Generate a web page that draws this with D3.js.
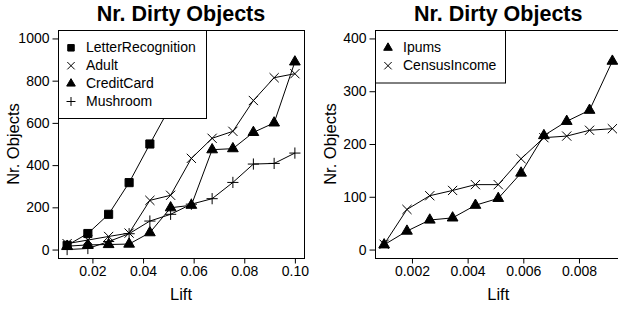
<!DOCTYPE html>
<html>
<head>
<meta charset="utf-8">
<script src="https://cdn.jsdelivr.net/npm/d3@7"></script>
<style>
  body { margin: 0; background: #fff; }
  svg { display: block; font-family: "Liberation Sans", Arial, sans-serif; }
</style>
</head>
<body>
<svg id="chart" width="618" height="310"></svg>
<script>
// left panel data
var liftA = [0.0100, 0.0182, 0.0264, 0.0345, 0.0427, 0.0509, 0.0591, 0.0673, 0.0755, 0.0836, 0.0918, 0.1000];
var letterRecognition = [20, 76, 167, 317, 500, 680];
var adult = [28, 45, 62, 78, 233, 257, 432, 527, 560, 706, 814, 833];
var creditCard = [16, 22, 24, 26, 80, 198, 210, 473, 478, 555, 600, 889];
var mushroom = [0, 5, 38, 75, 135, 167, 215, 241, 318, 405, 408, 457];
var ticksXA = [0.02, 0.04, 0.06, 0.08, 0.10];
var ticksYA = [0, 200, 400, 600, 800, 1000];

// right panel data
var liftB = [0.00100, 0.00182, 0.00264, 0.00346, 0.00428, 0.00510, 0.00592, 0.00674, 0.00756, 0.00838, 0.00920];
var ipums = [9, 35, 56, 60, 84, 97, 145, 216, 243, 264, 357];
var censusIncome = [10, 76, 102, 112, 123, 123, 172, 212, 215, 226, 229];
var ticksXB = [0.002, 0.004, 0.006, 0.008];
var ticksYB = [0, 100, 200, 300, 400];

var svg = d3.select("#chart");

// marker paths
function markerPath(kind, k) {
	k = k || 1;
	if (kind == "square") return d3.symbol(d3.symbolSquare, 66 * k * k)();
	if (kind == "triangle") return d3.symbol(d3.symbolTriangle, 50 * k * k)();
	var r;
	if (kind == "times") {
		r = 4.6 * k;
		return "M" + -r + "," + -r + "L" + r + "," + r + "M" + -r + "," + r + "L" + r + "," + -r;
	}
	// plus
	r = 5.6 * k;
	return "M" + -r + ",0L" + r + ",0M0," + -r + "L0," + r;
}

function drawPanel(opt) {
	var x = d3.scaleLinear().domain(opt.xDomain).range([opt.left, opt.right]);
	var y = d3.scaleLinear().domain(opt.yDomain).range([opt.bottom, opt.top]);
	var g = svg.append("g");

	// series lines + markers
	opt.series.forEach(function (s) {
		var pts = s.values.map(function (v, i) { return [opt.xs[i], v]; });
		g.append("path")
			.datum(pts)
			.attr("fill", "none")
			.attr("stroke", "#000")
			.attr("stroke-width", 1)
			.attr("d", d3.line().x(function (d) { return x(d[0]); }).y(function (d) { return y(d[1]); }));
		g.selectAll(null)
			.data(pts)
			.enter()
			.append("path")
			.attr("transform", function (d) { return "translate(" + x(d[0]) + "," + y(d[1]) + ")"; })
			.attr("d", markerPath(s.mark))
			.attr("fill", (s.mark == "square" || s.mark == "triangle") ? "#000" : "none")
			.attr("stroke", "#000")
			.attr("stroke-width", 1);
	});

	// box
	g.append("rect")
		.attr("x", opt.left + 0.5).attr("y", opt.top + 0.5)
		.attr("width", opt.right - opt.left).attr("height", opt.bottom - opt.top)
		.attr("fill", "none").attr("stroke", "#000").attr("stroke-width", 1);

	// axes
	var xAxis = d3.axisBottom(x).tickValues(opt.xTicks).tickSize(5).tickPadding(3)
		.tickFormat(opt.xFormat);
	var gx = g.append("g").attr("transform", "translate(0," + (opt.bottom + 0.5) + ")").call(xAxis);
	var yAxis = d3.axisLeft(y).tickValues(opt.yTicks).tickSize(6).tickPadding(3)
		.tickFormat(d3.format("d"));
	var gy = g.append("g").attr("transform", "translate(" + (opt.left + 0.5) + ",0)").call(yAxis);
	[gx, gy].forEach(function (a) {
		a.select(".domain").remove();
		a.selectAll("line").attr("stroke", "#000");
		a.selectAll("text").attr("fill", "#000").style("font-size", "14px");
	});

	// titles
	var cx = (opt.left + opt.right) / 2;
	g.append("text")
		.attr("x", cx).attr("y", 21)
		.attr("text-anchor", "middle")
		.style("font-size", "21.5px").style("font-weight", "bold")
		.text("Nr. Dirty Objects");
	g.append("text")
		.attr("x", cx).attr("y", 300)
		.attr("text-anchor", "middle")
		.style("font-size", "16.5px")
		.text("Lift");
	g.append("text")
		.attr("transform", "translate(" + (opt.left - 39.5) + "," + ((opt.top + opt.bottom) / 2) + ") rotate(-90)")
		.attr("text-anchor", "middle")
		.style("font-size", "16.5px")
		.text("Nr. Objects");

	// legend
	var lg = g.append("g");
	lg.append("rect")
		.attr("x", opt.left + 0.5).attr("y", opt.top + 0.5)
		.attr("width", opt.legendW).attr("height", opt.legendH)
		.attr("fill", "#fff").attr("stroke", "#000").attr("stroke-width", 1);
	opt.series.forEach(function (s, i) {
		var yy = opt.top + 22.3 + i * 17.9;
		lg.append("path")
			.attr("transform", "translate(" + (opt.left + 13) + "," + (yy - 4.5) + ")")
			.attr("d", markerPath(s.mark, 0.8))
			.attr("fill", (s.mark == "square" || s.mark == "triangle") ? "#000" : "none")
			.attr("stroke", "#000");
		lg.append("text")
			.attr("x", opt.left + 28)
			.attr("y", yy)
			.style("font-size", "14px")
			.text(s.name);
	});
}

drawPanel({
	left: 58, right: 304, top: 30, bottom: 258,
	xDomain: [0.0064, 0.1036], yDomain: [-40, 1040],
	xs: liftA, xTicks: ticksXA, yTicks: ticksYA,
	xFormat: d3.format(".2f"),
	legendW: 148, legendH: 88,
	series: [
		{ name: "LetterRecognition", values: letterRecognition, mark: "square" },
		{ name: "Adult", values: adult, mark: "times" },
		{ name: "CreditCard", values: creditCard, mark: "triangle" },
		{ name: "Mushroom", values: mushroom, mark: "plus" }
	]
});

drawPanel({
	left: 375, right: 621.5, top: 30, bottom: 258,
	xDomain: [0.000672, 0.009528], yDomain: [-16, 416],
	xs: liftB, xTicks: ticksXB, yTicks: ticksYB,
	xFormat: d3.format(".3f"),
	legendW: 130, legendH: 52.5,
	series: [
		{ name: "Ipums", values: ipums, mark: "triangle" },
		{ name: "CensusIncome", values: censusIncome, mark: "times" }
	]
});
</script>
</body>
</html>
